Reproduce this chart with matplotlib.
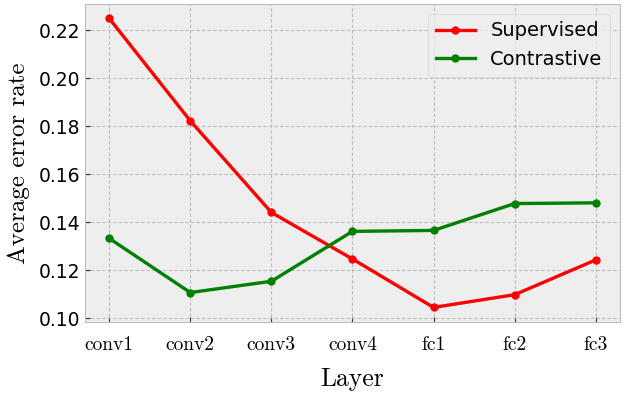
"""Average error rate per layer: supervised vs contrastive."""

import matplotlib

matplotlib.use("Agg")
from matplotlib import pyplot as plt  # noqa: E402

layers = ["conv1", "conv2", "conv3", "conv4", "fc1", "fc2", "fc3"]
supervised = [0.225, 0.1823, 0.1441, 0.1247, 0.1045, 0.1098, 0.1243]
contrastive = [0.1333, 0.1107, 0.1154, 0.1362, 0.1366, 0.1478, 0.1481]
yticks = [0.10, 0.12, 0.14, 0.16, 0.18, 0.20, 0.22]

plt.style.use("bmh")
fig, ax = plt.subplots(figsize=(6.24, 3.93), dpi=100)
fig.subplots_adjust(left=0.136, right=0.9936, top=0.99, bottom=0.181)

x = range(len(layers))
ax.plot(x, supervised, color="red", marker="o", markersize=5, linewidth=2.4, label="Supervised")
ax.plot(x, contrastive, color="green", marker="o", markersize=5, linewidth=2.4, label="Contrastive")

ax.grid(True, color="#bbbbbb", linestyle="--", linewidth=0.8, dashes=(3, 2))
ax.set_xticks(list(x))
ax.set_xticklabels(layers, fontname="cmr10", fontsize=14)
ax.tick_params(axis="y", labelsize=13.5, colors="black", color="#333333")
ax.tick_params(axis="x", colors="black", color="#333333", pad=10)
ax.set_xlabel("Layer", fontname="cmr10", fontsize=18.5, color="black", labelpad=10)
ax.set_ylabel("Average error rate", fontname="cmr10", fontsize=18, color="black", labelpad=6)
ax.set_yticks(yticks)
ax.set_yticklabels([f"{v:.2f}" for v in yticks])
ax.legend(loc="upper right", fontsize=14, framealpha=0.8)

plt.savefig("out.png", dpi=100)
